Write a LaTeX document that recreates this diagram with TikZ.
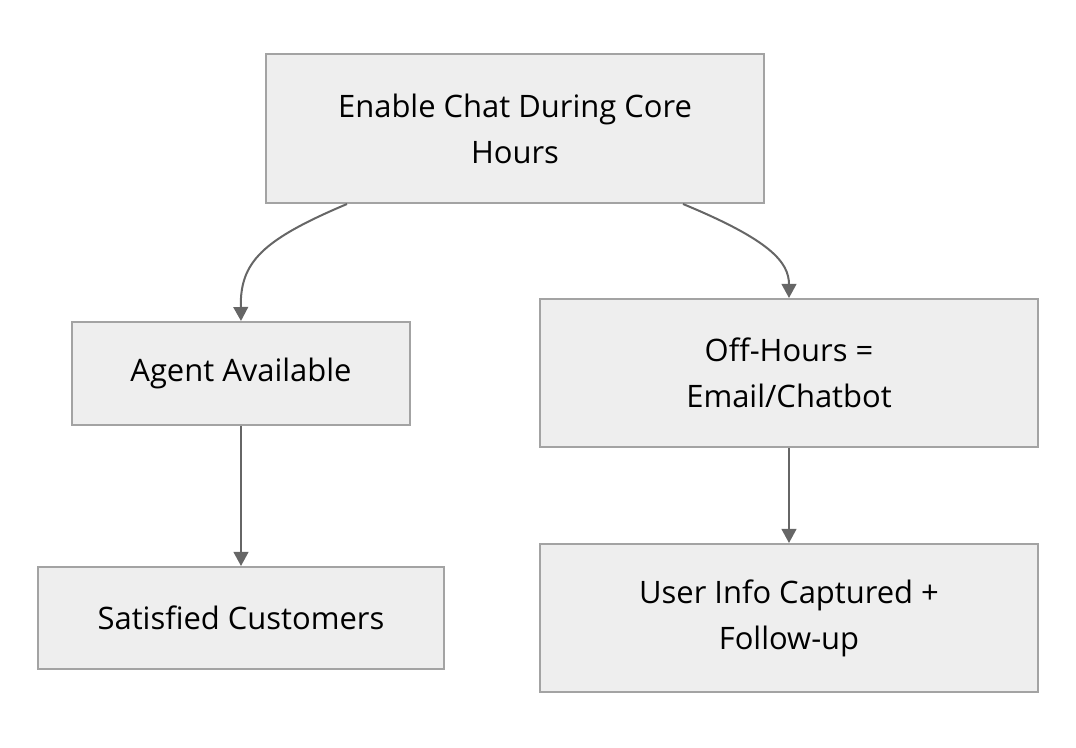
\documentclass[tikz,border=0pt]{standalone}
\usepackage{fontspec}
\setmainfont{Open Sans}
\usetikzlibrary{arrows.meta,calc}
\definecolor{boxfill}{HTML}{EEEEEE}
\definecolor{boxline}{HTML}{A3A3A3}
\definecolor{edgecol}{HTML}{666666}
\tikzset{
  flowbox/.style={draw=boxline, fill=boxfill, line width=1.5pt, align=center, inner sep=0pt,
    font=\fontsize{23.2pt}{34.5pt}\selectfont, text=black},
  flowedge/.style={draw=edgecol, line width=1.5pt, -{Triangle[length=10.5pt,width=11pt]}}
}
\begin{document}
\begin{tikzpicture}[x=0.75pt,y=-0.75pt]
\useasboundingbox (0,0) rectangle (1076,748);
\node[flowbox, minimum width=498*0.75pt, minimum height=149*0.75pt] (top) at (515,128.5) {Enable Chat During Core\\Hours};
\node[flowbox, minimum width=338*0.75pt, minimum height=103*0.75pt] (agent) at (241,373.5) {Agent Available};
\node[flowbox, minimum width=406*0.75pt, minimum height=102*0.75pt] (sat) at (241,618) {Satisfied Customers};
\node[flowbox, minimum width=498*0.75pt, minimum height=148*0.75pt] (off) at (789,373) {Off-Hours =\\Email/Chatbot};
\node[flowbox, minimum width=498*0.75pt, minimum height=148*0.75pt] (user) at (789,618) {User Info Captured +\\Follow-up};
\draw[flowedge] ($(top.south)+(-168,0)$) .. controls (262,240) and (240,262) .. (agent.north);
\draw[flowedge] ($(top.south)+(168,0)$) .. controls (770,240) and (789,262) .. (off.north);
\draw[flowedge] (agent.south) -- (sat.north);
\draw[flowedge] (off.south) -- (user.north);
\end{tikzpicture}
\end{document}
